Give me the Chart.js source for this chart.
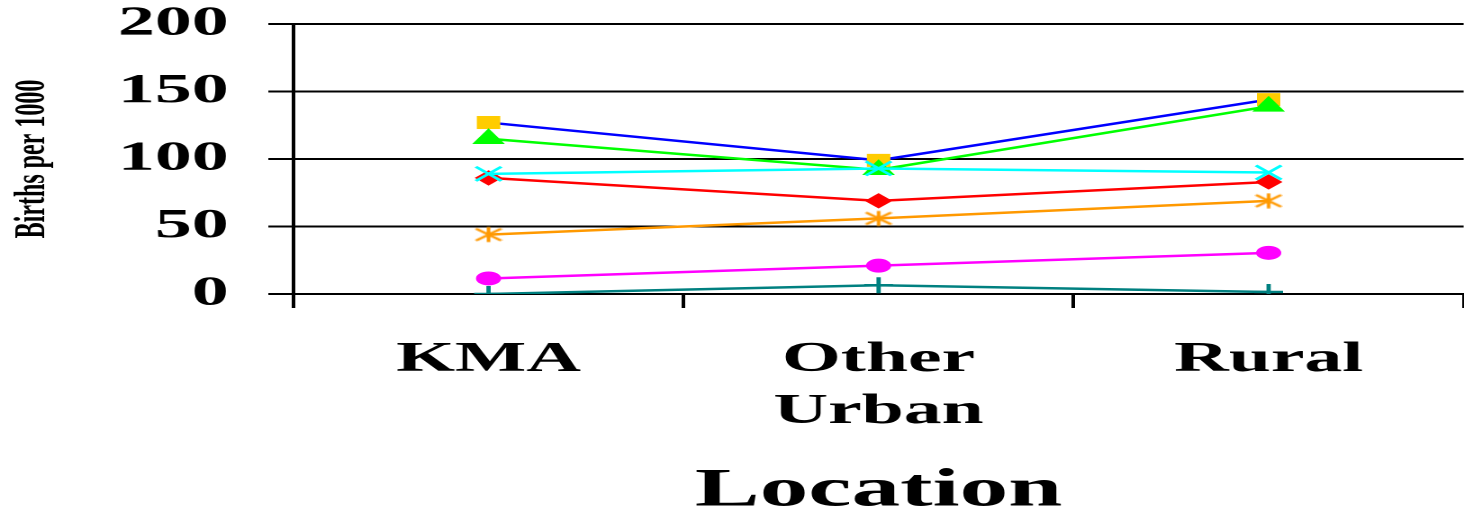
<!DOCTYPE html>
<html><head><meta charset="utf-8">
<script src="https://cdn.jsdelivr.net/npm/chart.js@4"></script>
<style>
html,body{margin:0;padding:0;background:#fff;overflow:hidden;width:1464px;height:513px}
#wrap{position:absolute;left:0;top:0;width:825px;height:513px;transform-origin:0 0;transform:scaleX(1.80074);}
</style></head><body>
<div id="wrap"><canvas id="c" width="825" height="513" style="width:825px;height:513px"></canvas></div>
<script>
const categories = ['KMA', ['Other', 'Urban'], 'Rural'];
const yTickValues = [0, 50, 100, 150, 200];
const seriesBlueSquare = [127, 99, 144];
const seriesGreenTriangle = [115, 92, 139];
const seriesCyanX = [89, 93, 90];
const seriesRedDiamond = [86, 69, 83];
const seriesOrangeStar = [44, 56, 69];
const seriesMagentaCircle = [11.5, 21, 30.5];
const seriesTealPlus = [0, 6.5, 1.5];

function starImg(color) {
  const c = document.createElement('canvas');
  c.width = 16; c.height = 16;
  const g = c.getContext('2d');
  g.strokeStyle = color; g.lineWidth = 2;
  g.beginPath();
  g.moveTo(8, 0.5); g.lineTo(8, 15.5);
  g.moveTo(1, 2); g.lineTo(15, 14);
  g.moveTo(1, 14); g.lineTo(15, 2);
  g.stroke();
  return c;
}

const FONT = "'Liberation Serif', 'Times New Roman', serif";

function ds(label, data, color, pointColor, style, radius, pbw) {
  return {
    label, data,
    borderColor: color, borderWidth: 2.5,
    backgroundColor: pointColor,
    pointBackgroundColor: pointColor,
    pointBorderColor: pointColor,
    pointStyle: style, pointRadius: radius, pointHoverRadius: radius,
    pointBorderWidth: pbw,
    tension: 0, fill: false
  };
}

const datasets = [
  ds('Series 4', seriesCyanX, '#00FFFF', '#00FFFF', 'crossRot', 10, 2.2),
  ds('Series 2', seriesGreenTriangle, '#00FF00', '#00FF00', 'triangle', 9.5, 1),
  ds('Series 1', seriesBlueSquare, '#0000FF', '#FFCC00', 'rect', 8.5, 1),
  ds('Series 3', seriesRedDiamond, '#FF0000', '#FF0000', 'rectRot', 7, 1),
  ds('Series 5', seriesOrangeStar, '#FF9900', '#FF9900', starImg('#FF9900'), 8, 2),
  ds('Series 6', seriesMagentaCircle, '#FF00FF', '#FF00FF', 'circle', 6.5, 1),
  ds('Series 7', seriesTealPlus, '#008080', '#008080', 'cross', 8, 2.4)
];

new Chart(document.getElementById('c'), {
  type: 'line',
  data: { labels: categories, datasets },
  options: {
    responsive: false,
    animation: false,
    devicePixelRatio: 2,
    events: [],
    layout: { padding: { top: 0, right: 0, left: 0, bottom: 0 } },
    plugins: { legend: { display: false }, tooltip: { enabled: false } },
    scales: {
      x: {
        type: 'category',
        offset: true,
        grid: { offset: true, drawOnChartArea: false, drawTicks: true, tickLength: 14, color: '#000', lineWidth: 2 },
        border: { display: true, color: '#000', width: 2 },
        ticks: {
          color: '#000', maxRotation: 0, autoSkip: false, padding: 26,
          font: { family: FONT, size: 42, weight: 'bold', lineHeight: 1.24 }
        },
        title: {
          display: true, text: 'Location', color: '#000',
          font: { family: FONT, size: 54, weight: 'bold', lineHeight: 0.8 },
          padding: { top: 0, bottom: 0 }
        },
        afterFit: (s) => { s.height = 219; s.paddingLeft = 0; s.paddingRight = 0; }
      },
      y: {
        min: 0, max: 200,
        afterBuildTicks: (s) => { s.ticks = yTickValues.map(v => ({ value: v })); },
        grid: { color: '#000', lineWidth: 2, tickLength: 14, drawTicks: true },
        border: { display: true, color: '#000', width: 2 },
        ticks: {
          color: '#000', padding: 22,
          font: { family: FONT, size: 41, weight: 'bold' }
        },
        title: {
          display: true, text: 'Births per 1000', color: '#000',
          font: { family: FONT, size: 24, weight: 'bold' },
          padding: { top: 4, bottom: 0 }
        },
        afterFit: (s) => { s.width = 163; s.paddingTop = 24; s.paddingBottom = 0; }
      }
    }
  }
});
</script>
</body></html>
